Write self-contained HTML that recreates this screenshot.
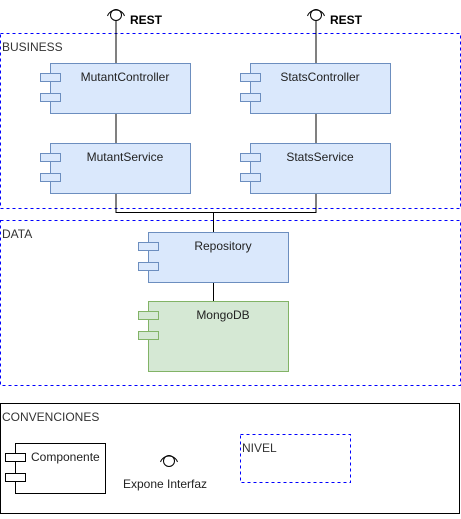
<!DOCTYPE html>
<html><head><style>body{margin:0;background:#fff}</style></head><body>
<svg width="461" height="514" xmlns="http://www.w3.org/2000/svg" font-family="Liberation Sans, Arial, sans-serif" font-size="12">
<rect x="0.5" y="33.5" width="460" height="175" fill="none" stroke="#0000ff" stroke-dasharray="3,3"/>
<text x="2" y="51" fill="#333">BUSINESS</text>
<rect x="0.5" y="220.5" width="460" height="165" fill="none" stroke="#0000ff" stroke-dasharray="3,3"/>
<text x="2" y="238" fill="#333">DATA</text>
<g stroke="#000" fill="none">
<line x1="116" y1="21" x2="116" y2="63"/><line x1="316" y1="21" x2="316" y2="63"/>
<line x1="116" y1="113" x2="116" y2="143"/><line x1="316" y1="113" x2="316" y2="143"/>
<polyline points="116,193 116,212.5 316,212.5 316,193"/>
<line x1="213.5" y1="212" x2="213.5" y2="232"/>
<line x1="213.5" y1="282" x2="213.5" y2="301"/>
<circle cx="116" cy="15" r="5.5"/><path d="M107.5,16 A9,9 0 0 1 124.5,16"/>
<circle cx="316" cy="15" r="5.5"/><path d="M307.5,16 A9,9 0 0 1 324.5,16"/>
</g>
<g font-weight="bold"><text x="130" y="24">REST</text><text x="330" y="24">REST</text></g>
<g stroke="#6c8ebf" fill="#dae8fc">
<rect x="50.5" y="63.5" width="140" height="50"/><rect x="40.5" y="73.5" width="20" height="8"/><rect x="40.5" y="93.5" width="20" height="8"/>
<rect x="50.5" y="143.5" width="140" height="50"/><rect x="40.5" y="153.5" width="20" height="8"/><rect x="40.5" y="173.5" width="20" height="8"/>
<rect x="250.5" y="63.5" width="140" height="50"/><rect x="240.5" y="73.5" width="20" height="8"/><rect x="240.5" y="93.5" width="20" height="8"/>
<rect x="250.5" y="143.5" width="140" height="50"/><rect x="240.5" y="153.5" width="20" height="8"/><rect x="240.5" y="173.5" width="20" height="8"/>
<rect x="148.5" y="232.5" width="140" height="50"/><rect x="138.5" y="242.5" width="20" height="8"/><rect x="138.5" y="262.5" width="20" height="8"/>
</g>
<g stroke="#82b366" fill="#d5e8d4">
<rect x="148.5" y="301.5" width="140" height="70"/><rect x="138.5" y="311.5" width="20" height="8"/><rect x="138.5" y="331.5" width="20" height="8"/>
</g>
<g text-anchor="middle" fill="#222">
<text x="125" y="81">MutantController</text><text x="125" y="161">MutantService</text>
<text x="320" y="81">StatsController</text><text x="320" y="161">StatsService</text>
<text x="223" y="250">Repository</text><text x="223" y="319">MongoDB</text>
</g>
<rect x="0.5" y="403.5" width="459" height="110" fill="none" stroke="#000"/>
<text x="2" y="421" fill="#333">CONVENCIONES</text>
<g stroke="#000" fill="#fff">
<rect x="15.5" y="443.5" width="90" height="50"/><rect x="5.5" y="453.5" width="20" height="8"/><rect x="5.5" y="473.5" width="20" height="8"/>
</g>
<text x="31" y="461" fill="#222">Componente</text>
<g stroke="#000" fill="none"><circle cx="169" cy="461" r="5.5"/><path d="M160.5,462 A9,9 0 0 1 177.5,462"/></g>
<text x="165" y="488" text-anchor="middle" fill="#222">Expone Interfaz</text>
<rect x="240.5" y="434.5" width="110" height="48" fill="none" stroke="#0000ff" stroke-dasharray="3,3"/>
<text x="242" y="452" fill="#333">NIVEL</text>
</svg>
</body></html>
